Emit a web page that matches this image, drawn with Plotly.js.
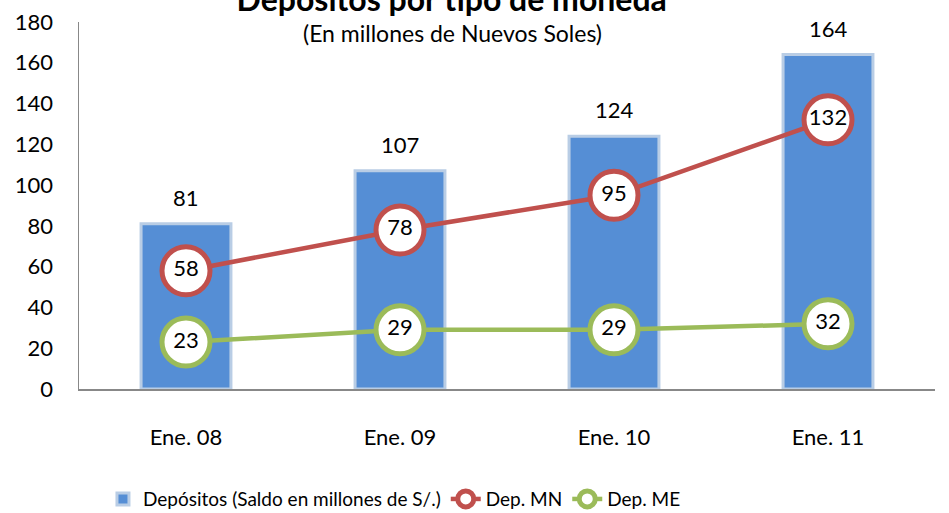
<!DOCTYPE html>
<html><head><meta charset="utf-8">
<script src="https://cdn.plot.ly/plotly-3.0.1.min.js"></script>
<style>body{margin:0}#c{width:949px;height:513px}</style>
</head><body><div id="c"></div>
<script>
const categories = ["Ene. 08", "Ene. 09", "Ene. 10", "Ene. 11"];
const depositos = [81, 107, 124, 164];
const depMN = [58, 78, 95, 132];
const depME = [23, 29, 29, 32];
const yTicks = [0, 20, 40, 60, 80, 100, 120, 140, 160, 180];

const F = "Lato, 'Open Sans', sans-serif";

const traces = [
  {type:"bar", x:categories, y:depositos, name:"Depósitos (Saldo en millones de S/.)",
   width:0.42, marker:{color:"#558ED5", line:{color:"#B9CDE5", width:3}}, hoverinfo:"skip"},
  {type:"scatter", mode:"lines+markers+text", x:categories, y:depMN, name:"Dep. MN",
   text:depMN.map(String), textposition:"middle center", textfont:{family:F, size:22, color:"#000"},
   line:{color:"#C0504D", width:4.5},
   marker:{size:48, color:"#FFFFFF", line:{color:"#C0504D", width:5}}, cliponaxis:false},
  {type:"scatter", mode:"lines+markers+text", x:categories, y:depME, name:"Dep. ME",
   text:depME.map(String), textposition:"middle center", textfont:{family:F, size:22, color:"#000"},
   line:{color:"#9BBB59", width:4.5},
   marker:{size:48, color:"#FFFFFF", line:{color:"#9BBB59", width:5}}, cliponaxis:false}
];

const annotations = categories.map((c,i)=>({x:c, y:depositos[i], xref:"x", yref:"y",
  text:String(depositos[i]), showarrow:false, yanchor:"bottom", yshift:11,
  font:{family:F, size:22, color:"#000"}}));
annotations.push({xref:"paper", yref:"paper", x:0.436, y:1.0, yshift:-11, xanchor:"center", yanchor:"middle",
  text:"(En millones de Nuevos Soles)", showarrow:false, font:{family:F, size:23, color:"#000"}});

const layout = {
  width:949, height:513,
  margin:{l:79, r:14, t:22, b:124, autoexpand:false},
  paper_bgcolor:"#fff", plot_bgcolor:"#fff",
  title:{text:"<b>Depósitos por tipo de moneda</b>", font:{family:F, size:32, color:"#000"},
         x:0.476, xanchor:"center", y:1.0, yanchor:"middle", yref:"container"},
  showlegend:true,
  legend:{orientation:"h", x:0.028, xanchor:"left", y:-0.30, yanchor:"middle",
          font:{family:F, size:19, color:"#000"}, traceorder:"normal"},
  xaxis:{type:"category", showline:true, linecolor:"#888", linewidth:1.5, ticks:"", showgrid:false,
         tickfont:{family:F, size:22, color:"#000"}, ticklabelstandoff:28},
  yaxis:{range:[0,180], tickvals:yTicks, showline:true, linecolor:"#888", linewidth:1.5, ticks:"",
         showgrid:false, zeroline:false, tickfont:{family:F, size:22, color:"#000"}, ticklabelstandoff:20},
  annotations:annotations,
  bargap:0.58
};
Plotly.newPlot("c", traces, layout, {displayModeBar:false, staticPlot:true});
</script></body></html>
